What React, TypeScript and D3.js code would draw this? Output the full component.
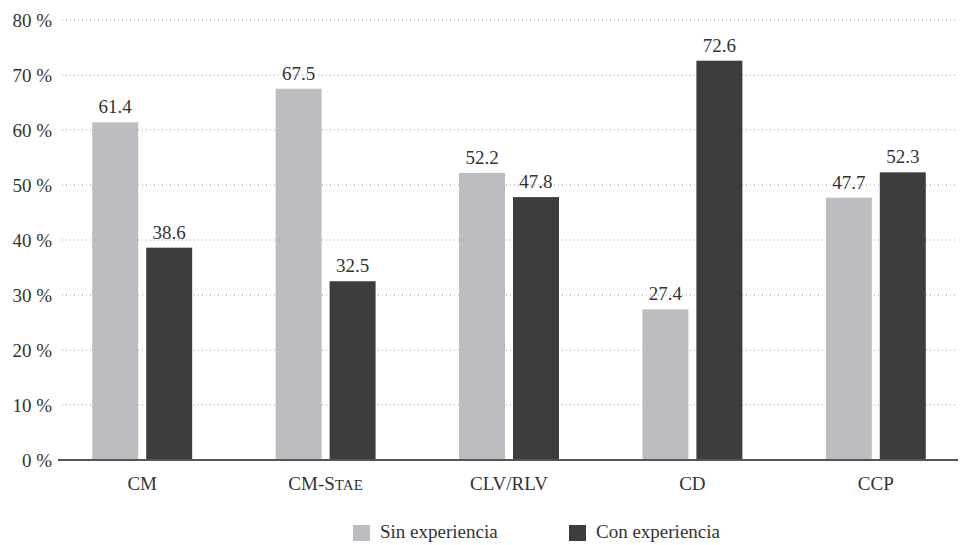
import React from "react";
import * as d3 from "d3";

const categories = ["CM", "CM-Stae", "CLV/RLV", "CD", "CCP"];
const sinExperiencia = [61.4, 67.5, 52.2, 27.4, 47.7];
const conExperiencia = [38.6, 32.5, 47.8, 72.6, 52.3];
const seriesNames = ["Sin experiencia", "Con experiencia"];
const yTicks = [0, 10, 20, 30, 40, 50, 60, 70, 80];

const W = 961;
const H = 545;
const FONT = "Liberation Serif, Times New Roman, DejaVu Serif, serif";
const TEXT = "#333333";
const LIGHT = "#bcbdc0";
const DARK = "#3d3d3d";
const ts: React.CSSProperties = { fontFamily: FONT, fontSize: "19px" };

export default function App() {
  const y = d3.scaleLinear().domain([0, 80]).range([460, 20]);
  const x0 = d3.scaleBand<string>().domain(categories).range([50.5, 967.5]).paddingInner(0.455).paddingOuter(0.2275);
  const x1 = d3.scaleBand<string>().domain(["sin", "con"]).range([0, x0.bandwidth()]).paddingInner(0.148);
  const series = [
    { key: "sin", values: sinExperiencia, color: LIGHT },
    { key: "con", values: conExperiencia, color: DARK },
  ];
  const renderLabel = (c: string) => {
    if (c === "CM-Stae") {
      return (
        <>
          CM-S<tspan style={{ fontSize: "15px" }}>TAE</tspan>
        </>
      );
    }
    return c;
  };
  return (
    <svg width={W} height={H} style={{ position: "absolute", left: 0, top: 0, background: "#fff" }}>
      {yTicks.map((t) => (
        <g key={t}>
          {t > 0 && (
            <line x1={62} x2={958} y1={y(t)} y2={y(t)} stroke="#9a9a9a" strokeWidth={1} strokeDasharray="1,3" />
          )}
          <text x={52} y={y(t)} dy="0.35em" textAnchor="end" style={ts} fill={TEXT}>
            {t} %
          </text>
        </g>
      ))}
      {categories.map((c, i) => (
        <g key={c} transform={`translate(${x0(c)},0)`}>
          {series.map((s) => (
            <g key={s.key}>
              <rect
                x={x1(s.key)}
                y={y(s.values[i])}
                width={x1.bandwidth()}
                height={y(0) - y(s.values[i])}
                fill={s.color}
              />
              <text
                x={(x1(s.key) as number) + x1.bandwidth() / 2}
                y={y(s.values[i]) - 9}
                textAnchor="middle"
                style={ts}
                fill={TEXT}
              >
                {s.values[i].toFixed(1)}
              </text>
            </g>
          ))}
          <text x={x0.bandwidth() / 2} y={490} textAnchor="middle" style={ts} fill={TEXT}>
            {renderLabel(c)}
          </text>
        </g>
      ))}
      <line x1={58} x2={958} y1={y(0)} y2={y(0)} stroke="#555555" strokeWidth={2} />
      {seriesNames.map((n, i) => (
        <g key={n} transform={`translate(${353 + i * 216},0)`}>
          <rect x={0} y={525} width={17} height={16} fill={i === 0 ? LIGHT : DARK} />
          <text x={27} y={538} style={ts} fill={TEXT}>
            {n}
          </text>
        </g>
      ))}
    </svg>
  );
}
